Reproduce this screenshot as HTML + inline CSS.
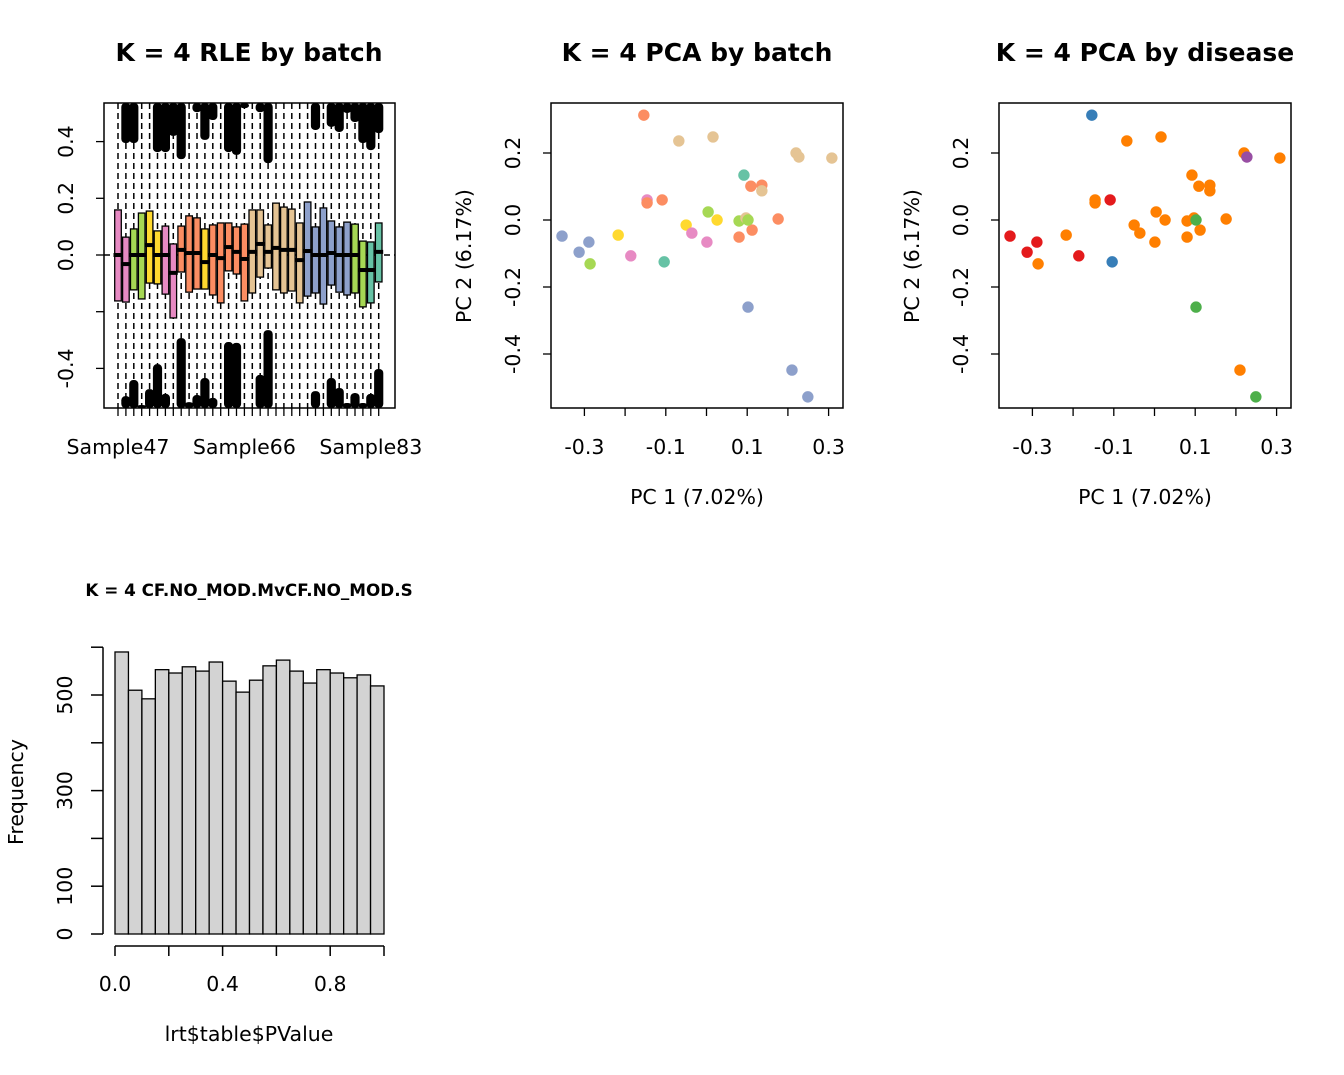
<!DOCTYPE html>
<html><head><meta charset="utf-8"><style>
html,body{margin:0;padding:0;background:#fff;}
svg{display:block;font-family:"DejaVu Sans","Liberation Sans",sans-serif;}
</style></head><body>
<svg id="fig" width="1344" height="1075" viewBox="0 0 1344 1075"></svg>
<script>
// ---------- RLE data ----------
const rleSamples = Array.from({length:34},(_,i)=>i);
const rleLabels = ["Sample47","Sample66","Sample83"];
const rleLabelIdx = [0,16,32];
const rleBatch = ["pk","pk","gr","gr","ye","ye","pk","pk","or","or","or","ye","or","or","or","or","or","tn","tn","tn","tn","tn","tn","tn","bl","bl","bl","bl","bl","bl","gr","gr","te","te"];
const rleQ3 = [.159,.063,.092,.148,.155,.085,.102,.039,.102,.138,.131,.092,.106,.113,.113,.099,.109,.159,.159,.106,.183,.169,.162,.113,.187,.099,.166,.120,.099,.116,.109,.049,.046,.113];
const rleMed = [0,-.032,0,0,.035,0,0,-.063,.018,.007,.007,-.025,0,-.011,.028,.011,-.014,.011,.039,.011,.025,.018,.018,-.018,.014,0,0,.007,0,0,0,-.053,-.053,.011];
const rleQ1 = [-.162,-.166,-.123,-.155,-.099,-.102,-.138,-.222,-.060,-.131,-.120,-.120,-.141,-.169,-.056,-.067,-.162,-.134,-.078,-.046,-.123,-.134,-.127,-.169,-.145,-.134,-.173,-.106,-.131,-.141,-.134,-.183,-.169,-.095];
const rleTopOut = [null,.395,.395,null,null,.363,.363,.420,.338,null,.504,.406,.476,null,.363,.353,.518,null,.504,.324,null,null,null,null,null,.441,null,.452,.434,.501,.469,.395,.370,.430];
const rleBotOut = [null,-.498,-.441,-.529,-.473,-.385,-.490,null,-.293,-.519,-.494,-.434,-.504,null,-.307,-.310,null,null,-.423,-.265,null,null,null,null,null,-.480,null,-.434,-.469,-.522,-.487,-.522,-.490,-.402];
const rleYTicks = [-0.4,-0.2,0,0.2,0.4];
const rleYLabels = ["-0.4","","0.0","0.2","0.4"];
// ---------- PCA data ----------
const pcX = [-.154,-.068,.016,.220,.227,.308,.092,.109,.136,.136,-.146,-.146,-.109,.004,.026,.080,.097,.176,.112,.080,-.050,-.036,.001,-.355,-.289,-.313,-.286,-.217,-.186,-.104,.102,.210,.249,.102];
const pcY = [.313,.236,.248,.200,.188,.185,.134,.101,.104,.087,.060,.051,.060,.024,0,-.003,.006,.003,-.030,-.051,-.015,-.039,-.066,-.048,-.066,-.096,-.131,-.045,-.107,-.125,-.260,-.448,-.528,0];
const pcBatch = ["or","tn","tn","tn","tn","tn","te","or","or","tn","pk","or","or","gr","ye","gr","tn","or","or","or","ye","pk","pk","bl","bl","bl","gr","ye","pk","te","bl","bl","bl","gr"];
const pcDisease = ["B","O","O","O","P","O","O","O","O","O","O","O","R","O","O","O","O","O","O","O","O","O","O","R","R","R","O","O","R","B","G","O","G","G"];
const pcXTicks = [-0.3,-0.2,-0.1,0,0.1,0.2,0.3];
const pcXLabels = ["-0.3","","-0.1","","0.1","","0.3"];
const pcYTicks = [-0.4,-0.2,0,0.2];
const pcYLabels = ["-0.4","-0.2","0.0","0.2"];
// ---------- Histogram data ----------
const histCounts = [590,510,492,553,546,559,550,569,529,506,531,561,573,550,525,553,546,536,542,519];
const histXTicks = [0,0.2,0.4,0.6,0.8,1.0];
const histXLabels = ["0.0","","0.4","","0.8",""];
const histYTicks = [0,100,200,300,400,500,600];
const histYLabels = ["0","100","","300","","500",""];

const batchCol = {pk:"#E78AC3",gr:"#A6D854",ye:"#FFD92F",or:"#FC8D62",tn:"#E5C494",bl:"#8DA0CB",te:"#66C2A5"};
const disCol = {R:"#E41A1C",B:"#377EB8",G:"#4DAF4A",P:"#984EA3",O:"#FF7F00"};

const svg = document.getElementById('fig');
const NS = "http://www.w3.org/2000/svg";
const FS = 20.5;
function mk(tag, attrs, parent){const e=document.createElementNS(NS,tag);for(const k in attrs)e.setAttribute(k,attrs[k]);(parent||svg).appendChild(e);return e;}
function txt(s,x,y,size,opts,parent){const t=mk('text',Object.assign({x:x,y:y,'font-size':size,'text-anchor':'middle',fill:'#000'},opts||{}),parent);t.textContent=s;return t;}

// ===== RLE panel =====
(function(){
  const g=mk('g',{});
  
  
  const L=104,R=395,T=103,B=408;
  const yv=v=>255-v*283.5;
  const xs=i=>118+i*7.9;
  const t=txt("K = 4 RLE by batch",249,61,25,{'font-weight':'bold'},g);
  
  
  mk('line',{x1:L,x2:R,y1:yv(0),y2:yv(0),stroke:'#000','stroke-width':1.5,'stroke-dasharray':'6,4'},g);
  rleSamples.forEach(i=>{
    const x=xs(i);
    const w=mk('line',{x1:x,x2:x,y1:T,y2:B,stroke:'#000','stroke-width':1.5,'stroke-dasharray':'6,4'},g);
    
    
    if(rleTopOut[i]!==null){
      const o=mk('rect',{x:x-4.6,y:T,width:9.2,height:yv(rleTopOut[i])-T,rx:4,fill:'#000'},g);
      
      
    }
    if(rleBotOut[i]!==null){
      const o=mk('rect',{x:x-4.6,y:yv(rleBotOut[i]),width:9.2,height:B-yv(rleBotOut[i]),rx:4,fill:'#000'},g);
      
      
    }
    const b=mk('rect',{x:x-3.3,y:yv(rleQ3[i]),width:6.6,height:yv(rleQ1[i])-yv(rleQ3[i]),fill:batchCol[rleBatch[i]],stroke:'#000','stroke-width':1.3},g);
    
    
    mk('line',{x1:x-4.5,x2:x+4.5,y1:yv(rleMed[i]),y2:yv(rleMed[i]),stroke:'#000','stroke-width':4},g);
    mk('line',{x1:x,x2:x,y1:B,y2:B+8,stroke:'#000','stroke-width':1.3},g);
  });
  mk('rect',{x:L,y:T,width:R-L,height:B-T,fill:'none',stroke:'#000','stroke-width':1.5},g);
  rleYTicks.forEach((v,k)=>{
    mk('line',{x1:L-8,x2:L,y1:yv(v),y2:yv(v),stroke:'#000','stroke-width':1.3},g);
    if(rleYLabels[k]){const y=yv(v);txt(rleYLabels[k],0,0,FS,{transform:`translate(${L-38},${y}) rotate(-90)`,'dominant-baseline':'central'},g);}
  });
  rleLabelIdx.forEach((idx,k)=>{const l=txt(rleLabels[k],xs(idx),454,FS,{},g);
    
    });
})();

// ===== PCA panels =====
function pca(L,title,colFn,name){
  const g=mk('g',{});
  
  
  const R=L+292,T=103,B=408;
  const x0=L+155.5;
  const xp=v=>x0+v*407, yp=v=>220-v*335;
  const t=txt(title,L+146,61,25,{'font-weight':'bold'},g);
  
  
  mk('rect',{x:L,y:T,width:R-L,height:B-T,fill:'none',stroke:'#000','stroke-width':1.5},g);
  pcXTicks.forEach((v,k)=>{mk('line',{x1:xp(v),x2:xp(v),y1:B,y2:B+8,stroke:'#000','stroke-width':1.3},g);
    if(pcXLabels[k])txt(pcXLabels[k],xp(v),454,FS,{},g);});
  pcYTicks.forEach((v,k)=>{mk('line',{x1:L-8,x2:L,y1:yp(v),y2:yp(v),stroke:'#000','stroke-width':1.3},g);
    txt(pcYLabels[k],0,0,FS,{transform:`translate(${L-38},${yp(v)}) rotate(-90)`,'dominant-baseline':'central'},g);});
  const xl=txt("PC 1 (7.02%)",L+146,504,FS,{},g);
  
  
  const yl=txt("PC 2 (6.17%)",0,0,FS,{transform:`translate(${L-87},256) rotate(-90)`,'dominant-baseline':'central'},g);
  
  
  pcX.forEach((v,i)=>{
    const c=mk('circle',{cx:xp(v),cy:yp(pcY[i]),r:5.7,fill:colFn(i)},g);
    
    
  });
}
pca(551,"K = 4 PCA by batch",i=>batchCol[pcBatch[i]],'pca-batch-panel');
pca(999,"K = 4 PCA by disease",i=>disCol[pcDisease[i]],'pca-disease-panel');

// ===== Histogram =====
(function(){
  const g=mk('g',{});
  
  
  const xp=v=>115+v*269, yp=v=>934-v*0.478;
  const t=txt("K = 4 CF.NO_MOD.MvCF.NO_MOD.S",249,596,16.8,{'font-weight':'bold'},g);
  
  
  histCounts.forEach((c,i)=>{
    const r=mk('rect',{x:xp(i*0.05),y:yp(c),width:xp(0.05)-xp(0),height:yp(0)-yp(c),fill:'#D3D3D3',stroke:'#000','stroke-width':1.3},g);
    
    
  });
  mk('line',{x1:xp(0),x2:xp(1),y1:946,y2:946,stroke:'#000','stroke-width':1.5},g);
  histXTicks.forEach((v,k)=>{mk('line',{x1:xp(v),x2:xp(v),y1:946,y2:956,stroke:'#000','stroke-width':1.5},g);
    if(histXLabels[k])txt(histXLabels[k],xp(v),991,FS,{},g);});
  mk('line',{x1:103,x2:103,y1:yp(0),y2:yp(600),stroke:'#000','stroke-width':1.5},g);
  histYTicks.forEach((v,k)=>{mk('line',{x1:91,x2:103,y1:yp(v),y2:yp(v),stroke:'#000','stroke-width':1.5},g);
    if(histYLabels[k])txt(histYLabels[k],0,0,FS,{transform:`translate(65,${yp(v)}) rotate(-90)`,'dominant-baseline':'central'},g);});
  const xl=txt("lrt$table$PValue",249,1041,FS,{},g);
  
  
  const yl=txt("Frequency",0,0,FS,{transform:'translate(16,792) rotate(-90)','dominant-baseline':'central'},g);
  
  
})();
</script>
</body></html>
